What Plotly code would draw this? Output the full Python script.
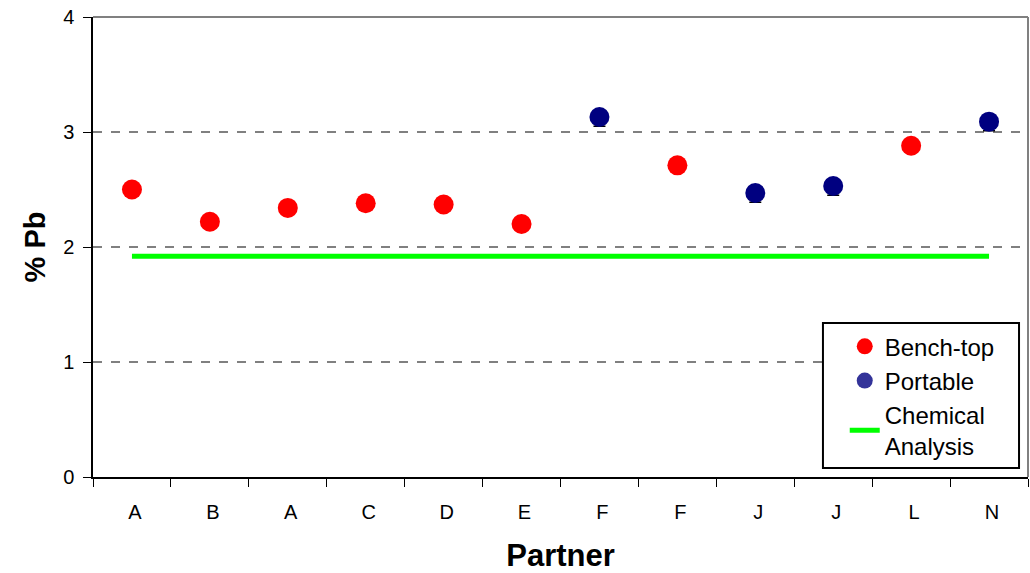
import plotly.graph_objects as go

# Partner labels along the x axis (duplicates are separate samples)
partners = ["A", "B", "A", "C", "D", "E", "F", "F", "J", "J", "L", "N"]

# Bench-top XRF results: position index and % Pb
bench_idx = [0, 1, 2, 3, 4, 5, 7, 10]
bench_pb = [2.50, 2.22, 2.34, 2.38, 2.37, 2.20, 2.71, 2.88]
bench_err = [0.05, 0.05, 0.05, 0.05, 0.05, 0.05, 0.05, 0.05]

# Portable XRF results
port_idx = [6, 8, 9, 11]
port_pb = [3.13, 2.47, 2.53, 3.09]
port_err = [0.08, 0.08, 0.08, 0.08]

# Reference value from wet chemical analysis
chem_pb = 1.92

FONT = "Liberation Sans, Arial, sans-serif"
RED = "#ff0000"
NAVY = "#000080"
LEGEND_BLUE = "#333399"
GREEN = "#00ff00"

fig = go.Figure()

# Chemical analysis reference line across all partners
fig.add_trace(go.Scatter(
    x=[0, len(partners) - 1], y=[chem_pb, chem_pb],
    mode="lines", line=dict(color=GREEN, width=5),
    showlegend=False, hoverinfo="skip",
))

fig.add_trace(go.Scatter(
    x=bench_idx, y=bench_pb, mode="markers",
    marker=dict(color=RED, size=20),
    error_y=dict(type="data", symmetric=False, array=[0] * len(bench_err),
                 arrayminus=bench_err, color="black", thickness=1.5, width=6),
    showlegend=False,
))

fig.add_trace(go.Scatter(
    x=port_idx, y=port_pb, mode="markers",
    marker=dict(color=NAVY, size=20),
    error_y=dict(type="data", symmetric=False, array=[0] * len(port_err),
                 arrayminus=port_err, color="black", thickness=1.5, width=6),
    showlegend=False,
))

# Legend entries
fig.add_trace(go.Scatter(x=[None], y=[None], mode="markers", name="Bench-top",
                         marker=dict(color=RED, size=20)))
fig.add_trace(go.Scatter(x=[None], y=[None], mode="markers", name="Portable",
                         marker=dict(color=LEGEND_BLUE, size=20)))
fig.add_trace(go.Scatter(x=[None], y=[None], mode="lines", name="Chemical<br>Analysis",
                         line=dict(color=GREEN, width=5)))

fig.update_layout(
    width=1030, height=573,
    margin=dict(l=93, r=2, t=17, b=96),
    paper_bgcolor="white", plot_bgcolor="white",
    font=dict(family=FONT, color="black", size=20),
    showlegend=True,
    legend=dict(
        x=0.804, y=0.019, xanchor="left", yanchor="bottom",
        bgcolor="rgba(0,0,0,0)", borderwidth=0,
        font=dict(family=FONT, size=24, color="black"),
        itemsizing="trace", tracegroupgap=0,
    ),
    xaxis=dict(
        range=[-0.5, len(partners) - 0.5],
        tickmode="array", tickvals=list(range(len(partners))), ticktext=partners,
        ticks="outside", ticklen=16, tickcolor="rgba(0,0,0,0)",
        tickfont=dict(size=20), ticklabelshift=3,
        showline=True, linecolor="black", linewidth=1.5, mirror=False,
        showgrid=False, zeroline=False,
        minor=dict(tick0=-0.5, dtick=1, ticks="outside", ticklen=8,
                   tickcolor="black", tickwidth=1, showgrid=False),
        title=dict(text="<b>Partner</b>", font=dict(size=31), standoff=26),
    ),
    yaxis=dict(
        range=[0, 4], tickmode="array", tickvals=[0, 1, 2, 3, 4],
        ticks="outside", ticklen=8, tickcolor="black", tickwidth=1,
        tickfont=dict(size=20), ticklabelstandoff=5,
        showline=True, linecolor="black", linewidth=1.5,
        showgrid=True, gridcolor="#808080", griddash="dash", gridwidth=1.5,
        zeroline=False,
        title=dict(text="<b>% Pb</b>", font=dict(size=29), standoff=9),
    ),
)

# Grey frame on the top and right of the plotting area
fig.add_shape(type="line", xref="paper", yref="paper", x0=0, x1=1, y0=1, y1=1,
              line=dict(color="#808080", width=2))
fig.add_shape(type="line", xref="paper", yref="paper", x0=1, x1=1, y0=0, y1=1,
              line=dict(color="#808080", width=2))

# White legend box with a black border
fig.add_shape(type="rect", xref="paper", yref="paper",
              x0=0.7807, x1=0.9904, y0=0.0196, y1=0.3348,
              fillcolor="white", line=dict(color="black", width=2), layer="above")

fig.write_html("out.html")
